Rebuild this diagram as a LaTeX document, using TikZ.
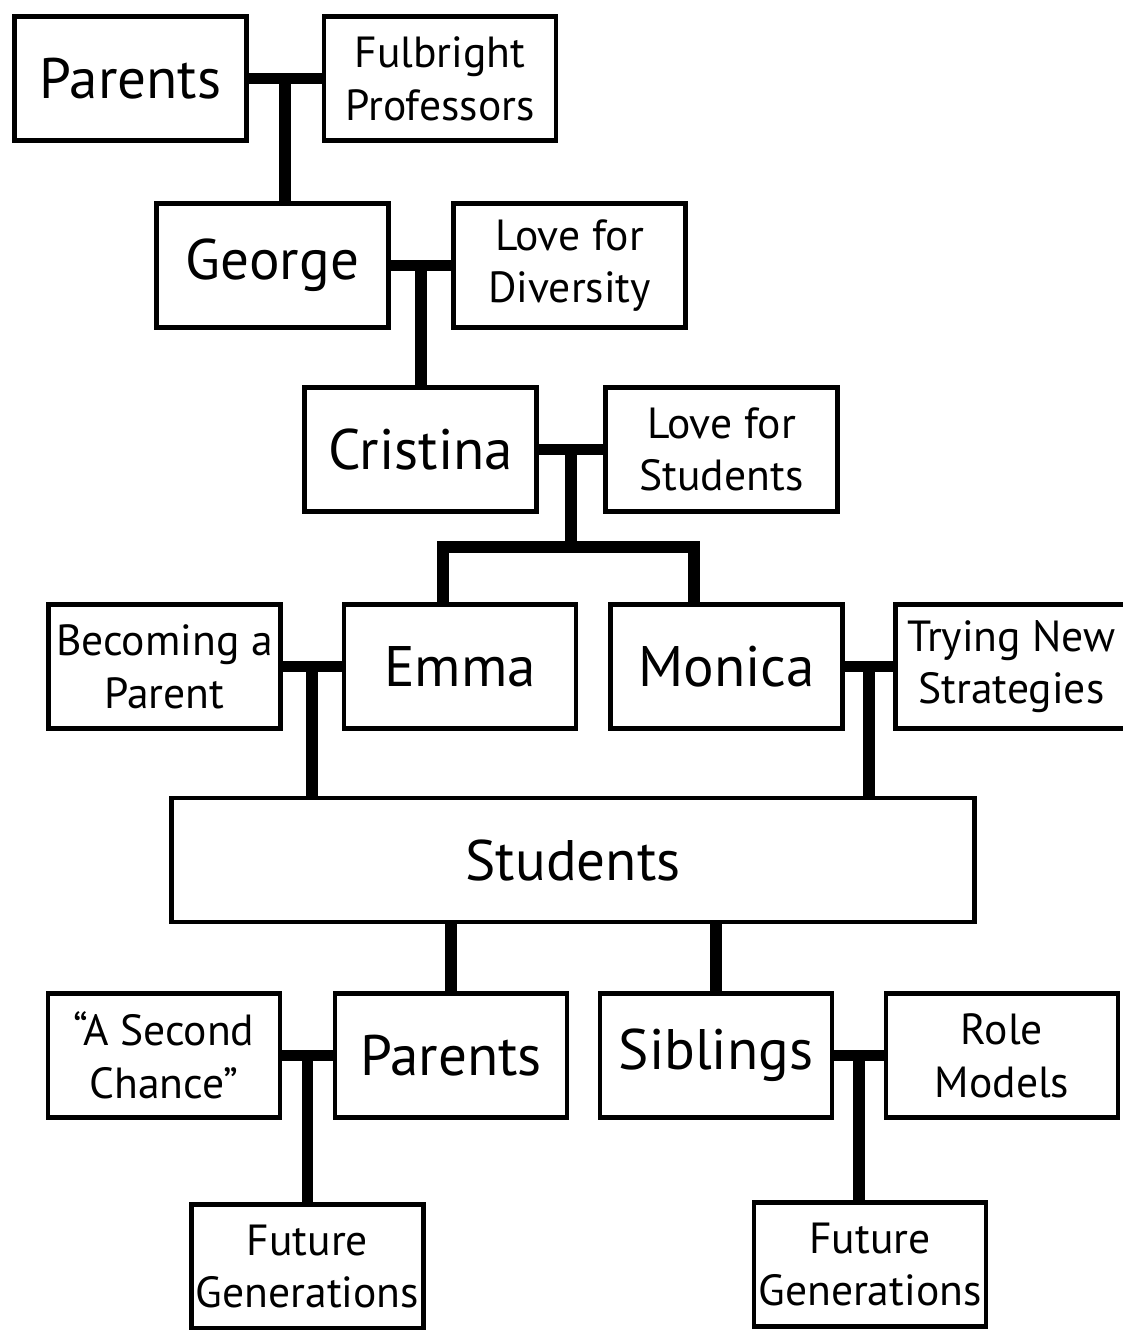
\documentclass[tikz,border=0pt]{standalone}
\usepackage{fontspec}
\setmainfont{PT Sans}
\usetikzlibrary{positioning,calc}
\newcommand{\bigword}{\fontsize{32.5}{36}\selectfont}
\newcommand{\smallword}{\fontsize{24.8}{30}\selectfont}

\begin{document}
\begin{tikzpicture}[
  box/.style={draw=black, line width=2.6pt, minimum width=4.64cm, minimum height=2.48cm,
    align=center, inner sep=1pt},
  person/.style={box, font=\bigword},
  idea/.style={box, font=\smallword},
  link/.style={draw=black, line width=6.8pt}
]
\useasboundingbox (0,0) rectangle (22.46,-26.6);

% first generations
\node[person] (parentsA) at (2.61,-1.57) {Parents};
\node[idea] (fulbright) at (8.80,-1.57) {Fulbright\\Professors};
\node[person] (george) at (5.45,-5.31) {George};
\node[idea] (diversity) at (11.39,-5.31) {Love for\\Diversity};
\node[person] (cristina) at (8.41,-8.99) {Cristina};
\node[idea] (lovestud) at (14.43,-8.99) {Love for\\Students};

% teachers
\node[idea] (becoming) at (3.29,-13.33) {Becoming a\\Parent};
\node[person] (emma) at (9.20,-13.33) {Emma};
\node[person] (monica) at (14.53,-13.33) {Monica};
\node[idea] (trying) at (20.23,-13.33) {Trying New\\Strategies};

\node[person, minimum width=16.06cm] (students) at (11.46,-17.20) {Students};

% what students pass on
\node[idea] (secondchance) at (3.28,-21.11) {``A Second\\Chance''};
\node[person] (parentsB) at (9.02,-21.11) {Parents};
\node[person] (siblings) at (14.32,-21.11) {Siblings};
\node[idea] (rolemodels) at (20.04,-21.11) {Role\\Models};
\node[idea] (futureA) at (6.15,-25.33) {Future\\Generations};
\node[idea] (futureB) at (17.40,-25.29) {Future\\Generations};

\foreach \a/\b/\c in {parentsA/fulbright/george, george/diversity/cristina,
    becoming/emma/students, monica/trying/students,
    secondchance/parentsB/futureA, siblings/rolemodels/futureB}{
  \draw[link] (\a.east) -- (\b.west);
  \coordinate (mid) at ($(\a.east)!0.5!(\b.west)$);
  \draw[link] (mid) -- (mid |- \c.north);
}

% Cristina splits to Emma and Monica
\coordinate (cmid) at ($(cristina.east)!0.5!(lovestud.west)$);
\draw[link] (cristina.east) -- (lovestud.west);
\coordinate (emmadrop) at (8.86,-10.94);
\coordinate (monicadrop) at (13.88,-10.94);
\draw[link] (cmid) -- (cmid |- emmadrop);
\draw[link] (emmadrop |- emma.north) -- (emmadrop) -- (monicadrop) -- (monicadrop |- monica.north);

\foreach \k in {parentsB, siblings}
  \draw[link] (\k.north) -- (\k.north |- students.south);
\end{tikzpicture}
\end{document}
